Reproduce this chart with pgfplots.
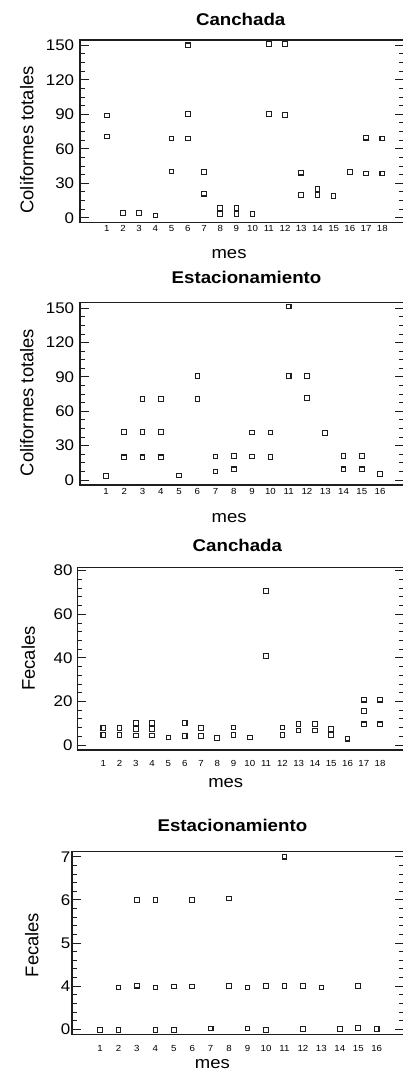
\documentclass[border=0pt]{standalone}
\usepackage{fontspec}
\setmainfont{Liberation Sans}[FakeStretch=1.1]
\newfontfamily\ylabfont{Liberation Sans}
\usepackage{pgfplots}
\pgfplotsset{compat=1.18}
\definecolor{ink}{RGB}{30,30,30}

\pgfplotsset{
  panel/.style={
    scale only axis, anchor=south west,
    axis line style={ink, line width=1.3pt},
    /pgf/number format/assume math mode=true,
    tick align=inside,
    ytick pos=both, yticklabel pos=left,
    xtick pos=bottom,
    xtick style={draw=none},
    ytick style={ink, line width=0.9pt},
    major tick length=9pt, minor tick length=5pt,
    xtick={1,...,18},
    yticklabel style={font=\fontsize{15.4}{17}\selectfont},
    xticklabel style={font=\fontsize{8.8}{10}\selectfont},
    title style={font=\bfseries\fontsize{17}{20}\selectfont, anchor=base},
    xlabel style={font=\fontsize{16.8}{20}\selectfont, anchor=center},
    ylabel style={font=\ylabfont\fontsize{18.4}{20}\selectfont, anchor=base},
    xlabel={mes},
  },
  pts/.style={only marks, mark=square, mark size=2.3pt, draw=ink,
    mark options={solid, draw=ink, fill=none, line width=1.05pt}},
}

\begin{document}
\begin{tikzpicture}
\useasboundingbox (0,0) rectangle (403pt,1072pt);

% Canchada - coliformes totales
\begin{axis}[panel, at={(80pt,849.3pt)}, width=324pt, height=182.7pt,
  xmin=-0.65, xmax=19.34, ymin=-4.3, ymax=154.6,
  ytick={0,30,...,150}, minor y tick num=3,
  xticklabel style={yshift=1pt}, yticklabel style={xshift=-2.3pt},
  title={Canchada}, title style={at={(axis description cs:0.496,1.0487)}},
  xlabel style={at={(axis description cs:0.46,-0.1697)}},
  ylabel={Coliformes totales}, ylabel style={at={(axis description cs:-0.1441,0.453)}}]
\addplot[pts] coordinates {
  (1,89)(1,70.8)(2,4)(3,4)(4,2)(5,69)(5,40.3)(6,150)(6,90.2)(6,69)
  (7,39.7)(7,20.9)(8,8.7)(8,3.5)(9,8.7)(9,3.5)(10,3.5)(11,151)(11,90)
  (12,151)(12,89.4)(13,39.2)(13,19.7)(14,25.2)(14,19.7)(15,18.9)(16,39.7)
  (17,69.6)(17,38.6)(18,69)(18,38.6)
};
\end{axis}

% Estacionamiento - coliformes totales
\begin{axis}[panel, at={(80pt,587pt)}, width=324pt, height=182.7pt,
  xmin=-0.423, xmax=17.31, ymin=-4.4, ymax=155.2,
  ytick={0,30,...,150}, minor y tick num=3, xtick={1,...,16},
  xticklabel style={yshift=0pt}, yticklabel style={xshift=-2.3pt},
  title={Estacionamiento}, title style={at={(axis description cs:0.514,1.0706)}},
  xlabel style={at={(axis description cs:0.4605,-0.182)}},
  ylabel={Coliformes totales}, ylabel style={at={(axis description cs:-0.1441,0.4516)}}]
\addplot[pts] coordinates {
  (1,3.5)(2,41.7)(2,19.8)(3,70.5)(3,41.7)(3,19.8)(4,70.8)(4,41.7)(4,19.8)
  (5,3.8)(6,90.9)(6,70.5)(7,20.4)(7,7.3)(8,21)(8,9.3)(9,41.4)(9,20.4)
  (10,41.4)(10,20.1)(11,151.5)(11,90.6)(12,90.6)(12,71.7)(13,40.8)
  (14,21)(14,9.3)(15,21)(15,9.3)(16,5)
};
\end{axis}

% Canchada - fecales
\begin{axis}[panel, at={(77.3pt,322pt)}, width=326.7pt, height=182.7pt,
  xmin=-0.597, xmax=19.47, ymin=-2.29, ymax=81.56,
  ytick={0,20,...,80}, minor y tick num=4,
  xticklabel style={yshift=-6.6pt}, yticklabel style={xshift=-1.3pt},
  title={Canchada}, title style={at={(axis description cs:0.49,1.052)}},
  xlabel style={at={(axis description cs:0.4545,-0.179)}},
  ylabel={Fecales}, ylabel style={at={(axis description cs:-0.1295,0.5)}}]
\addplot[pts] coordinates {
  (1,7.7)(1,4.6)(2,7.7)(2,4.6)(3,10)(3,7.4)(3,4.3)(4,10)(4,7.4)(4,4.3)
  (5,3.5)(6,10)(6,4.2)(7,7.7)(7,4.2)(8,3.1)(9,8)(9,4.6)(10,3.5)
  (11,70.8)(11,40.8)(12,8)(12,4.5)(13,9.7)(13,6.6)(14,9.7)(14,6.6)
  (15,7.4)(15,4.5)(16,2.9)(17,20.8)(17,15.7)(17,9.5)(18,20.8)(18,9.5)
};
\end{axis}

% Estacionamiento - fecales (the axis jumps from 0 to 4)
\begin{axis}[panel, at={(72pt,37.7pt)}, width=332pt, height=182.6pt,
  xmin=-0.518, xmax=17.48, ymin=2.884, ymax=7.116,
  ytick={3,4,5,6,7}, yticklabels={0,4,5,6,7}, minor y tick num=4,
  y filter/.expression={y<2 ? y+3 : y},
  xtick={1,...,16},
  xticklabel style={yshift=-7.9pt}, yticklabel style={xshift=1.8pt},
  title={Estacionamiento}, title style={at={(axis description cs:0.483,1.076)}},
  xlabel style={at={(axis description cs:0.423,-0.163)}},
  ylabel={Fecales}, ylabel style={at={(axis description cs:-0.1015,0.489)}}]
\addplot[pts] coordinates {
  (1,-0.015)(2,3.97)(2,-0.01)(3,6)(3,4.01)(4,6)(4,3.97)(4,-0.01)
  (5,3.99)(5,-0.01)(6,6)(6,3.99)(7,0.02)(8,6.03)(8,4)(9,3.97)(9,0.02)
  (10,4)(10,-0.01)(11,7)(11,4)(12,4)(12,0.01)(13,3.97)(14,0.01)
  (15,4)(15,0.03)(16,0.01)
};
\end{axis}
\end{tikzpicture}
\end{document}
